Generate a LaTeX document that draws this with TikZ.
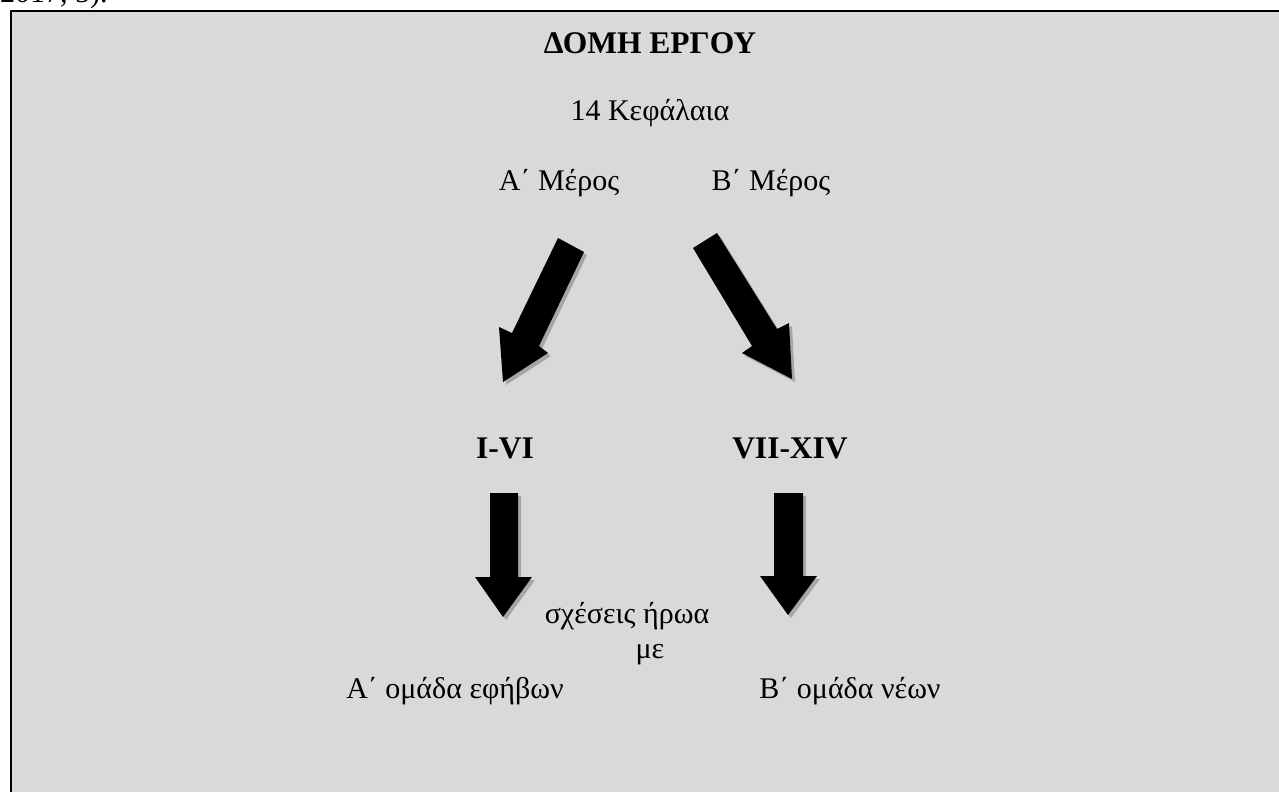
\documentclass[tikz,border=0pt]{standalone}
\usepackage{fontspec}
\setmainfont{Liberation Serif}
\definecolor{boxgray}{HTML}{D9D9D9}
\definecolor{shadowgray}{HTML}{A6A6A6}
\begin{document}
\begin{tikzpicture}[x=1pt,y=-1pt,
  txt/.style={anchor=base,inner sep=0pt,font=\fontsize{30}{36}\selectfont},
  btxt/.style={txt,font=\fontsize{31.5}{36}\selectfont\bfseries},
  blockarrow/.style={fill=black},
  blockshadow/.style={fill=shadowgray}]
\useasboundingbox (0,0) rectangle (1279,792);
\node[txt,anchor=base west] (cite) at (0,3) {2017, 5).};
\draw[line width=2.2pt,fill=boxgray] (11,11) rectangle (1300,810);
\node[btxt] (title) at (650,53) {ΔΟΜΗ ΕΡΓΟΥ};
\node[txt] (chap) at (650,120) {14 Κεφάλαια};
\node[txt] (partA) at (559,190) {Α΄ Μέρος};
\node[txt] (partB) at (771,190) {Β΄ Μέρος};
\node[btxt] (rA) at (505,458) {I-VI};
\node[btxt] (rB) at (790,458) {VII-XIV};
\node[txt] (rel) at (627,623) {σχέσεις ήρωα};
\node[txt] (me) at (650,658) {με};
\node[txt] (grA) at (455,698) {Α΄ ομάδα εφήβων};
\node[txt] (grB) at (850,698) {Β΄ ομάδα νέων};
\foreach \s/\dx in {blockshadow/3,blockarrow/0}{
  \fill[\s,shift={(\dx,\dx)}] (558,238) -- (584,252) -- (539,346) -- (548,353) -- (503,382) -- (499,327) -- (512,333) -- cycle;
  \fill[\s,shift={(\dx,\dx)}] (717,233) -- (693,248) -- (752,346) -- (742,353) -- (792,379) -- (789,323) -- (777,329) -- cycle;
  \fill[\s,shift={(\dx,\dx)}] (490,493) -- (518,493) -- (518,577) -- (532,577) -- (503,617) -- (475,577) -- (490,577) -- cycle;
  \fill[\s,shift={(\dx,\dx)}] (774,493) -- (803,493) -- (803,576) -- (817,576) -- (788,615) -- (760,576) -- (774,576) -- cycle;
}
\end{tikzpicture}
\end{document}
